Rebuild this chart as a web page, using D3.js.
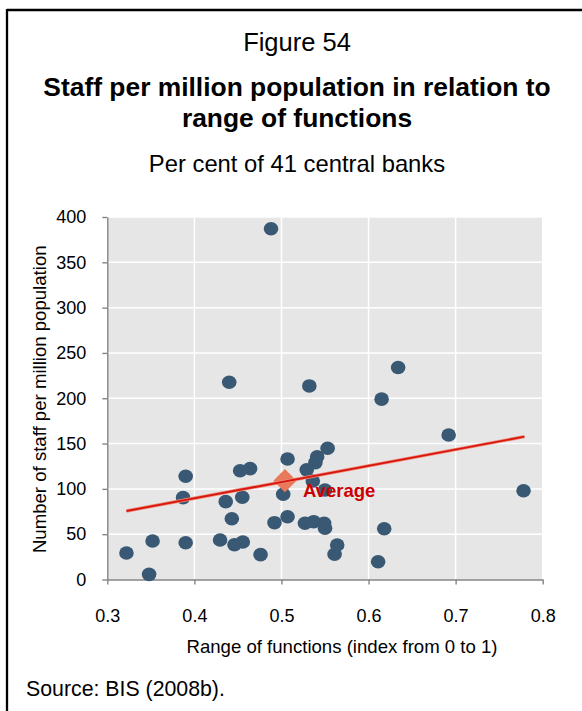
<!DOCTYPE html>
<html>
<head>
<meta charset="utf-8">
<script src="https://cdn.jsdelivr.net/npm/d3@7"></script>
<style>
  html, body { margin: 0; padding: 0; background: #fff; }
  svg { display: block; font-family: Arial, "Liberation Sans", sans-serif; }
</style>
</head>
<body>
<svg id="chart" width="582" height="711"></svg>
<script>
// Range of functions index (x) and staff per million population (y), one per central bank
const rangeIndex = [
  0.488, 0.440, 0.532, 0.634, 0.615, 0.692, 0.553, 0.541, 0.539, 0.529,
  0.536, 0.550, 0.507, 0.502, 0.507, 0.492, 0.527, 0.537, 0.549, 0.550,
  0.564, 0.561, 0.611, 0.618, 0.778, 0.390, 0.387, 0.436, 0.455, 0.4525,
  0.464, 0.443, 0.4295, 0.446, 0.4556, 0.476, 0.390, 0.352, 0.322, 0.348
];
const staffPerMillion = [
  387, 217.6, 213.6, 234, 199, 159.5, 144.8, 135.5, 129, 121,
  108.7, 98.8, 133, 94, 69.3, 62.7, 62, 63.8, 62, 56.5,
  38, 27.8, 19.6, 56, 98, 113.9, 90.3, 85.9, 90.7, 120,
  122.3, 67.1, 43.6, 38.4, 41.4, 27.4, 40.6, 42.5, 29.2, 5.7
];

// Average of the sample
const averagePoint = [0.504, 109];
const averageLabel = "Average";

// Linear trend line end points
const trendX = [0.322, 0.779];
const trendY = [75.6, 157.6];

// Axis ticks
const xTicks = [0.3, 0.4, 0.5, 0.6, 0.7, 0.8];
const yTicks = [0, 50, 100, 150, 200, 250, 300, 350, 400];

const svg = d3.select("#chart");

// Frame lines (top and left)
svg.append("line").attr("x1", 7).attr("x2", 582).attr("y1", 10).attr("y2", 10)
  .attr("stroke", "#000").attr("stroke-width", 2.3);
svg.append("line").attr("x1", 7).attr("x2", 7).attr("y1", 9).attr("y2", 711)
  .attr("stroke", "#000").attr("stroke-width", 2.3);

// Titles
svg.append("text").attr("x", 297).attr("y", 51).attr("text-anchor", "middle")
  .attr("font-size", 25.5).attr("fill", "#000").text("Figure 54");
svg.append("text").attr("x", 297).attr("y", 96).attr("text-anchor", "middle")
  .attr("font-size", 26.4).attr("font-weight", "bold").attr("fill", "#000")
  .text("Staff per million population in relation to");
svg.append("text").attr("x", 297).attr("y", 127).attr("text-anchor", "middle")
  .attr("font-size", 26.4).attr("font-weight", "bold").attr("fill", "#000")
  .text("range of functions");
svg.append("text").attr("x", 297).attr("y", 172).attr("text-anchor", "middle")
  .attr("font-size", 23.8).attr("fill", "#000").text("Per cent of 41 central banks");

// Scales
const x = d3.scaleLinear().domain([0.3, 0.8]).range([107.3, 542.7]);
const y = d3.scaleLinear().domain([0, 400]).range([579.5, 217]);

// Plot background
svg.append("rect")
  .attr("x", x(0.3)).attr("y", y(400))
  .attr("width", x(0.8) - x(0.3)).attr("height", y(0) - y(400))
  .attr("fill", "#e6e6e6");

// Gridlines
svg.append("g").selectAll("line").data(yTicks.filter(d => d > 0)).join("line")
  .attr("x1", x(0.3)).attr("x2", x(0.8))
  .attr("y1", d => y(d)).attr("y2", d => y(d))
  .attr("stroke", "#fff").attr("stroke-width", 1.5);
svg.append("g").selectAll("line").data(xTicks.filter(d => d > 0.3)).join("line")
  .attr("x1", d => x(d)).attr("x2", d => x(d))
  .attr("y1", y(0)).attr("y2", y(400))
  .attr("stroke", "#fff").attr("stroke-width", 1.5);

// Axes
const yAxis = svg.append("g").attr("transform", `translate(${x(0.3)},0)`)
  .call(d3.axisLeft(y).tickValues(yTicks).tickSize(5).tickPadding(16).tickSizeOuter(0).tickFormat(d3.format("d")));
const xAxis = svg.append("g").attr("transform", `translate(0,${y(0)})`)
  .call(d3.axisBottom(x).tickValues(xTicks).tickSize(5).tickPadding(25).tickSizeOuter(0).tickFormat(d3.format(".1f")));
[xAxis, yAxis].forEach(a => {
  a.select(".domain").attr("stroke", "#858585").attr("stroke-width", 1.4);
  a.selectAll(".tick line").attr("stroke", "#858585").attr("stroke-width", 1.4);
  a.selectAll(".tick text").attr("font-size", 18).attr("fill", "#000")
    .attr("font-family", "Arial, 'Liberation Sans', sans-serif");
});

// Axis titles
svg.append("text").attr("x", 342).attr("y", 653).attr("text-anchor", "middle")
  .attr("font-size", 18.6).attr("fill", "#000")
  .text("Range of functions (index from 0 to 1)");
svg.append("text")
  .attr("transform", `translate(46,${(y(0) + y(400)) / 2 + 1}) rotate(-90)`)
  .attr("text-anchor", "middle").attr("font-size", 18.6).attr("fill", "#000")
  .text("Number of staff per million population");

// Data points
const points = rangeIndex.map((v, i) => [v, staffPerMillion[i]]);
svg.append("g").selectAll("ellipse").data(points).join("ellipse")
  .attr("cx", d => x(d[0])).attr("cy", d => y(d[1]))
  .attr("rx", 7.3).attr("ry", 6.8)
  .attr("fill", "#395873");

// Average marker
const ax = x(averagePoint[0]), ay = y(averagePoint[1]);
svg.append("path")
  .attr("d", d3.symbol().type(d3.symbolSquare).size(270)())
  .attr("transform", `translate(${ax},${ay}) rotate(45)`)
  .attr("fill", "#e8795b");

// Trend line
const trend = trendX.map((v, i) => [v, trendY[i]]);
const lineGen = d3.line().x(d => x(d[0])).y(d => y(d[1]));
svg.append("path").attr("d", lineGen(trend))
  .attr("fill", "none").attr("stroke", "#ef8c7c").attr("stroke-width", 3.4);
svg.append("path").attr("d", lineGen(trend))
  .attr("fill", "none").attr("stroke", "#d8180e").attr("stroke-width", 1.9);

// Average label
svg.append("text").attr("x", ax + 18).attr("y", ay + 16)
  .attr("font-size", 18.5).attr("font-weight", "bold").attr("fill", "#cc0000")
  .text(averageLabel);

// Source note
svg.append("text").attr("x", 26).attr("y", 696)
  .attr("font-size", 21.3).attr("fill", "#000").text("Source: BIS (2008b).");
</script>
</body>
</html>
